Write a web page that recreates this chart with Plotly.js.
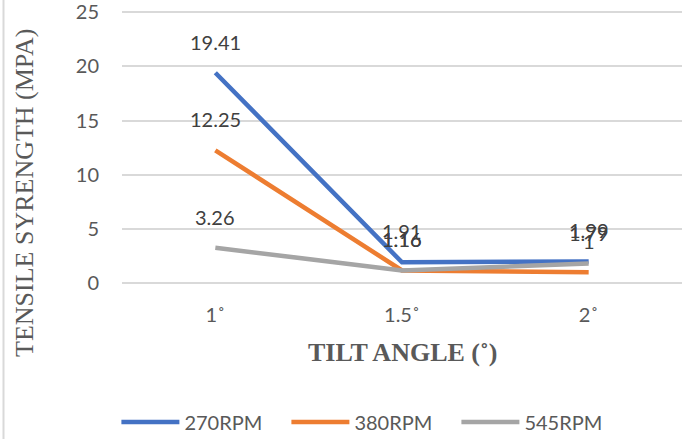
<!DOCTYPE html>
<html>
<head>
<meta charset="utf-8">
<script src="https://cdn.plot.ly/plotly-3.0.1.min.js"></script>
<style>html,body{margin:0;padding:0;background:#fff;}#chart{width:692px;height:439px;}</style>
</head>
<body>
<div id="chart"></div>
<script>
var categories = ['1˚', '1.5˚', '2˚'];
var rpm270 = [19.41, 1.91, 1.99];
var rpm380 = [12.25, 1.16, 1];
var rpm545 = [3.26, 1.16, 1.79];
var seriesNames = ['270RPM', '380RPM', '545RPM'];
var seriesColors = ['#4472C4', '#ED7D31', '#A5A5A5'];
var yTicks = [0, 5, 10, 15, 20, 25];

var allSeries = [rpm270, rpm380, rpm545];
var FONT = 'Lato, "Open Sans", sans-serif';
var SERIF = '"Liberation Serif", "Times New Roman", serif';

// plot area geometry (pixels)
var PT = 9, PB = 283, PL = 122, PR = 682;
var PH = PB - PT, PW = PR - PL;
function py(pix) { return (PB - pix) / PH; }
function px(pix) { return (pix - PL) / PW; }

var traces = allSeries.map(function (vals, i) {
  return {
    x: categories,
    y: vals,
    type: 'scatter',
    mode: 'lines',
    name: seriesNames[i],
    line: { color: seriesColors[i], width: 4.5 },
    hoverinfo: 'x+y+name'
  };
});

var annotations = [];
allSeries.forEach(function (vals, i) {
  vals.forEach(function (v, j) {
    annotations.push({
      x: categories[j], y: v, xref: 'x', yref: 'y',
      text: String(v), showarrow: false, yshift: 31,
      xanchor: 'center', yanchor: 'middle',
      font: { family: FONT, size: 20, color: '#404040' }
    });
  });
});

annotations.push({
  xref: 'paper', yref: 'paper', x: 0.5, y: py(352),
  xanchor: 'center', yanchor: 'middle',
  text: 'TILT ANGLE (˚)', showarrow: false,
  font: { family: SERIF, size: 26, color: '#595959', weight: 'bold' }
});
annotations.push({
  xref: 'paper', yref: 'paper', x: px(24), y: py(193),
  xanchor: 'center', yanchor: 'middle',
  text: 'TENSILE SYRENGTH (MPA)', showarrow: false, textangle: -90,
  font: { family: SERIF, size: 26, color: '#595959' }
});

var layout = {
  width: 692, height: 439,
  margin: { l: PL, r: 692 - PR, t: PT, b: 439 - PB, autoexpand: false },
  paper_bgcolor: '#ffffff', plot_bgcolor: '#ffffff',
  showlegend: true,
  legend: {
    orientation: 'h', x: -0.01, xanchor: 'left', y: py(422), yanchor: 'middle',
    font: { family: FONT, size: 20, color: '#595959' },
    itemwidth: 58, entrywidth: 97, entrywidthmode: 'pixels', traceorder: 'normal'
  },
  xaxis: {
    type: 'category', range: [-0.5, 2.5],
    showgrid: false, zeroline: false, showline: false,
    ticks: 'outside', ticklen: 14, tickcolor: 'rgba(0,0,0,0)',
    tickfont: { family: FONT, size: 20, color: '#595959' },
    fixedrange: true
  },
  yaxis: {
    range: [0, 25.3], tickvals: yTicks,
    showgrid: true, gridcolor: '#D9D9D9', gridwidth: 1.5,
    zeroline: true, zerolinecolor: '#D9D9D9', zerolinewidth: 1.5,
    showline: false,
    ticks: 'outside', ticklen: 18, tickcolor: 'rgba(0,0,0,0)',
    ticklabeloverflow: 'allow',
    tickfont: { family: FONT, size: 20, color: '#595959' },
    fixedrange: true
  },
  annotations: annotations,
  shapes: [{
    type: 'line', xref: 'paper', yref: 'paper',
    x0: px(3.5), x1: px(3.5), y0: -0.6, y1: 1.1,
    line: { color: '#D9D9D9', width: 2 }
  }]
};

Plotly.newPlot('chart', traces, layout, { displayModeBar: false });
</script>
</body>
</html>
